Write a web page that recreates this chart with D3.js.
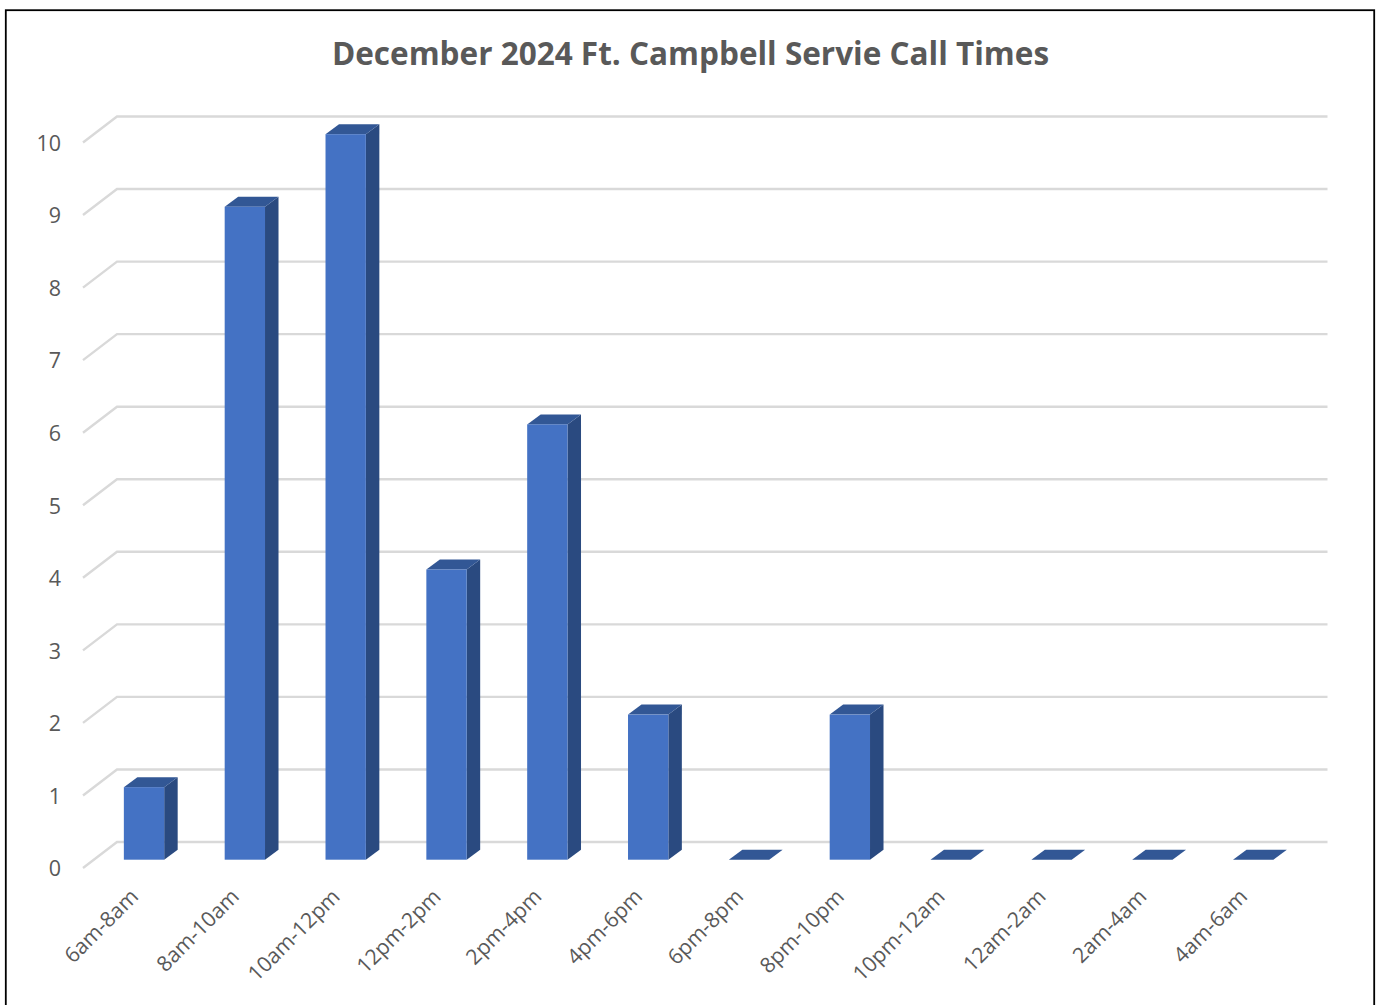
<!DOCTYPE html>
<html><head><meta charset="utf-8">
<script src="https://cdn.jsdelivr.net/npm/d3@7"></script>
<style>html,body{margin:0;padding:0;background:#fff;overflow:hidden}svg{display:block}</style>
</head><body><svg id="c" width="1377" height="1005"></svg>
<script>
const categories=["6am-8am","8am-10am","10am-12pm","12pm-2pm","2pm-4pm","4pm-6pm","6pm-8pm","8pm-10pm","10pm-12am","12am-2am","2am-4am","4am-6am"];
const calls=[1,9,10,4,6,2,0,2,0,0,0,0];
const yTicks=[0,1,2,3,4,5,6,7,8,9,10];
const titleText="December 2024 Ft. Campbell Servie Call Times";

const svg=d3.select("#c");
const font="'Open Sans',sans-serif";
svg.append("rect").attr("x",5.8).attr("y",10.2).attr("width",1368.4).attr("height",1010).attr("fill","#fff").attr("stroke","#000").attr("stroke-width",1.8);

svg.append("text").attr("x",690.5).attr("y",65).attr("text-anchor","middle")
  .attr("font-family",font).attr("font-weight",700).attr("font-size",31.5).attr("fill","#595959").text(titleText);

const y=d3.scaleLinear().domain([0,10]).range([868,142.5]);
const x=d3.scaleBand().domain(categories).range([93.6,1303.6]).paddingInner(0.6).paddingOuter(0.3);
// depth offsets of the 3D projection
const wallDx=34,wallDy=-26,barDx=13.5,barDy=-10,baseDrop=-8.3;
const grid=svg.append("g").attr("fill","none").attr("stroke","#d9d9d9").attr("stroke-width",2.4);
yTicks.forEach(t=>{
  const p=d3.path();
  p.moveTo(83,y(t));p.lineTo(83+wallDx,y(t)+wallDy);p.lineTo(1327.5,y(t)+wallDy);
  grid.append("path").attr("d",p.toString());
});
svg.append("g").selectAll("text").data(yTicks).join("text")
  .attr("x",61).attr("y",d=>y(d)+8.3).attr("text-anchor","end")
  .attr("font-family",font).attr("font-size",21.5).attr("fill","#595959").text(d=>d);

const bars=svg.append("g").selectAll("g").data(categories).join("g");
const poly=pts=>pts.map(p=>p.join(",")).join(" ");
bars.each(function(c,i){
  const g=d3.select(this),x0=x(c),x1=x0+x.bandwidth(),yb=y(0)+baseDrop,yt=y(calls[i])+baseDrop;
  g.append("polygon").attr("fill","#2a4a80").attr("points",poly([[x1,yb],[x1+barDx,yb+barDy],[x1+barDx,yt+barDy],[x1,yt]]));
  g.append("polygon").attr("fill","#325795").attr("points",poly([[x0,yt],[x0+barDx,yt+barDy],[x1+barDx,yt+barDy],[x1,yt]]));
  if(calls[i]>0) g.append("rect").attr("x",x0).attr("y",yt).attr("width",x.bandwidth()).attr("height",yb-yt).attr("fill","#4472c4");
});

svg.append("g").selectAll("text").data(categories).join("text")
  .attr("text-anchor","end").attr("font-family",font).attr("font-size",21.2).attr("fill","#595959")
  .attr("transform",c=>`translate(${x(c)+x.bandwidth()/2-4.5},${898}) rotate(-45)`).text(c=>c);
</script></body></html>
